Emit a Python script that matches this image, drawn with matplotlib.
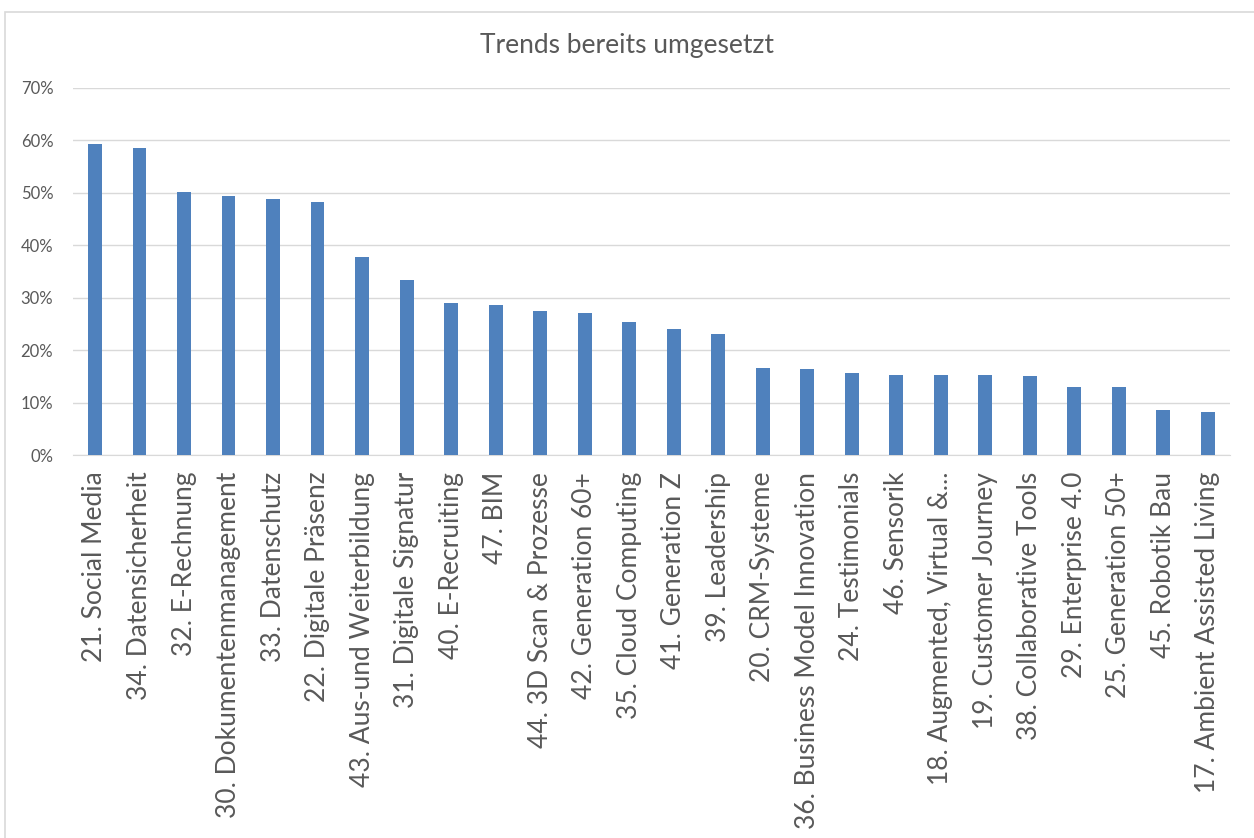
import numpy as np
import matplotlib
matplotlib.use("Agg")
import matplotlib.pyplot as plt
from matplotlib.patches import Rectangle
from matplotlib.ticker import PercentFormatter

# Data
labels = [
    "21. Social Media", "34. Datensicherheit", "32. E-Rechnung",
    "30. Dokumentenmanagement", "33. Datenschutz", "22. Digitale Präsenz",
    "43. Aus-und Weiterbildung", "31. Digitale Signatur", "40. E-Recruiting",
    "47. BIM", "44. 3D Scan & Prozesse", "42. Generation 60+",
    "35. Cloud Computing", "41. Generation Z", "39. Leadership",
    "20. CRM-Systeme", "36. Business Model Innovation", "24. Testimonials",
    "46. Sensorik", "18. Augmented, Virtual &...", "19. Customer Journey",
    "38. Collaborative Tools", "29. Enterprise 4.0", "25. Generation 50+",
    "45. Robotik Bau", "17. Ambient Assisted Living",
]
values = [
    59.3, 58.6, 50.1, 49.4, 48.9, 48.2, 37.7, 33.3, 28.9, 28.6,
    27.4, 27.0, 25.4, 24.0, 23.0, 16.6, 16.4, 15.6, 15.2, 15.2,
    15.2, 15.0, 13.0, 13.0, 8.6, 8.3,
]
title = "Trends bereits umgesetzt"

plt.rcParams['font.family'] = ['Lato', 'DejaVu Sans']
text_col = '#595959'
grid_col = '#D9D9D9'
bar_col = '#4F81BD'

fig = plt.figure(figsize=(12.54, 8.38), dpi=100)
ax = fig.add_axes([0.058, 0.457, 0.923, 0.438])

x = np.arange(len(labels))
ax.bar(x, values, width=0.31, color=bar_col, zorder=3)

ax.set_xlim(-0.5, len(labels) - 0.5)
ax.set_ylim(0, 70)
ax.set_yticks(np.arange(0, 71, 10))
ax.yaxis.set_major_formatter(PercentFormatter(decimals=0))
ax.set_xticks(x)
ax.set_xticklabels(labels, rotation=90, fontsize=19, color=text_col)
ax.tick_params(axis='y', labelsize=12, labelcolor=text_col, length=0, pad=14)
ax.tick_params(axis='x', length=0, pad=12)

ax.grid(axis='y', color=grid_col, linewidth=1, zorder=0)
for s in ['top', 'right', 'left']:
    ax.spines[s].set_visible(False)
ax.spines['bottom'].set_color(grid_col)

fig.text(0.5, 0.946, title, ha='center', va='center', fontsize=19, color=text_col)

# chart-area border
fig.patches.append(Rectangle((0.004, -0.01), 1.1, 0.996, transform=fig.transFigure,
                             fill=False, edgecolor=grid_col, linewidth=1.2))

fig.savefig("out.png", dpi=100)
